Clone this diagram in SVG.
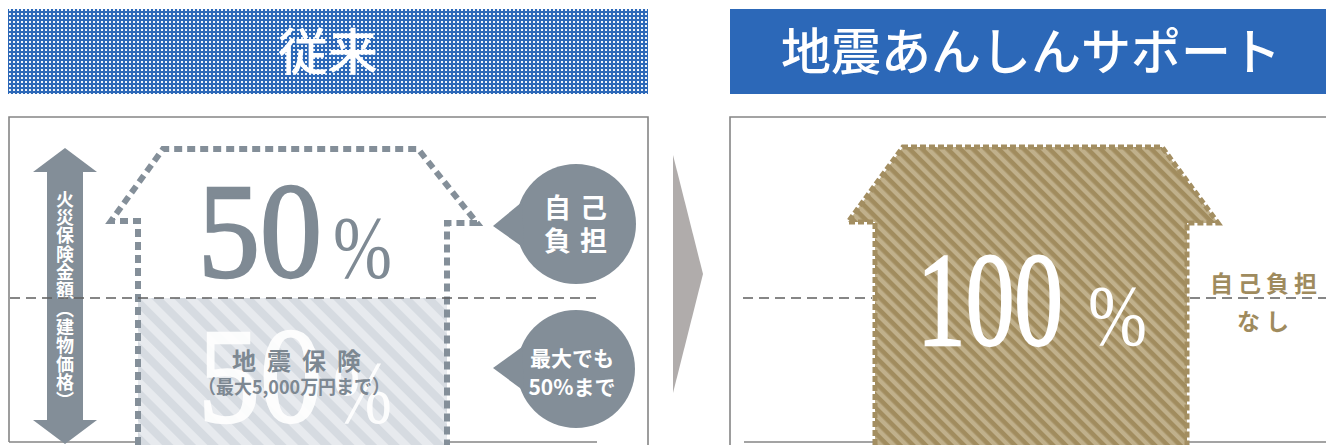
<svg xmlns="http://www.w3.org/2000/svg" width="1326" height="445" viewBox="0 0 1326 445">
  <style>
    .jp { font-family: "Noto Sans CJK JP", "Noto Sans", sans-serif; font-weight: bold; }
    .num { font-family: "Liberation Serif", "DejaVu Serif", serif; }
    .frame { fill: none; stroke: #858585; stroke-width: 1.6; }
    .guide { fill: none; stroke: #5f5f5f; stroke-width: 1.6; stroke-dasharray: 10 6; }
    .hdrtext { fill: #ffffff; font-size: 50px; text-anchor: middle; font-weight: 500; }
    .bubble { fill: #838e98; }
  </style>
  <defs>
    <!-- white dot screen on blue -->
    <pattern id="dots" width="4" height="4" patternUnits="userSpaceOnUse">
      <rect width="4" height="4" fill="#2c68b8"/>
      <rect x="1" y="1" width="2" height="2" fill="#ffffff" opacity="0.92"/>
    </pattern>
    <!-- pale diagonal stripes for the insured part -->
    <pattern id="paleStripes" width="16" height="16" patternUnits="userSpaceOnUse" patternTransform="rotate(45)">
      <rect width="16" height="16" fill="#e7eaee"/>
      <rect width="16" height="8" fill="#d6dbe1"/>
    </pattern>
    <!-- tan diagonal stripes for the fully covered house -->
    <pattern id="tanStripes" width="9" height="9" patternUnits="userSpaceOnUse" patternTransform="rotate(45)">
      <rect width="9" height="9" fill="#c0b08b"/>
      <rect width="9" height="4.6" fill="#a18c5e"/>
    </pattern>
  </defs>

  <!-- headers -->
  <g id="header-left">
    <rect x="8" y="9" width="640" height="85" fill="url(#dots)"/>
    <text class="jp hdrtext" x="328" y="70">従来</text>
  </g>
  <g id="header-right">
    <rect x="730" y="9" width="596" height="85" fill="#2c68b8"/>
    <text class="jp hdrtext" x="1031" y="70">地震あんしんサポート</text>
  </g>

  <!-- left panel: conventional coverage -->
  <g id="panel-left">
    <path class="frame" d="M9 442 V117 H648 V445 M9 442 H597"/>
  </g>

  <g id="insured-half">
    <rect x="138" y="298" width="309" height="147" fill="url(#paleStripes)"/>
    <text class="num" x="198" y="422" font-size="136" textLength="124" lengthAdjust="spacingAndGlyphs" fill="#ffffff" stroke="#ffffff" stroke-width="2.4" opacity="0.92">50</text>
    <text class="num" x="333" y="422" font-size="88" textLength="59" lengthAdjust="spacingAndGlyphs" fill="#ffffff" opacity="0.92">%</text>
    <text class="jp" x="232" y="370" font-size="24" letter-spacing="11" fill="#7d8892">地震保険</text>
    <text class="jp" x="198" y="394" font-size="19" textLength="192" lengthAdjust="spacingAndGlyphs" fill="#7d8892">（最大5,000万円まで）</text>
  </g>

  <g id="house-left">
    <path d="M138 445 V221 H111 L163 149 H418 L477 223 H447 V445" fill="none" stroke="#848f99" stroke-width="6" stroke-dasharray="8 5"/>
  </g>

  <g id="self-pay-half">
    <text class="num" x="198" y="277" font-size="136" textLength="124" lengthAdjust="spacingAndGlyphs" fill="#7f8a94" stroke="#7f8a94" stroke-width="2.4">50</text>
    <text class="num" x="333" y="277" font-size="88" textLength="59" lengthAdjust="spacingAndGlyphs" fill="#7f8a94">%</text>
  </g>

  <g id="value-arrow">
    <path d="M65 148 L97 172 H83 V420 H97 L65 444 L33 420 H47 V172 H33 Z" fill="#838e98"/>
    <text class="jp" x="65" y="190" font-size="18" letter-spacing="0.3" fill="#ffffff" style="writing-mode: vertical-rl;">火災保険金額（建物価格）</text>
  </g>

  <g id="bubble-self">
    <circle class="bubble" cx="576" cy="224" r="60"/>
    <path class="bubble" d="M522 202 L493 226 L524 248 Z"/>
    <text class="jp" x="580" y="218" font-size="27" letter-spacing="9" fill="#ffffff" text-anchor="middle">自己</text>
    <text class="jp" x="580" y="251" font-size="27" letter-spacing="9" fill="#ffffff" text-anchor="middle">負担</text>
  </g>

  <g id="bubble-max">
    <circle class="bubble" cx="576" cy="369" r="59"/>
    <path class="bubble" d="M522 347 L493 368 L524 391 Z"/>
    <text class="jp" x="572" y="366" font-size="21" fill="#ffffff" text-anchor="middle">最大でも</text>
    <text class="jp" x="572" y="395" font-size="21" fill="#ffffff" text-anchor="middle">50%まで</text>
  </g>

  <!-- transition arrow and right panel -->
  <g id="transition">
    <polygon points="673,155 703,274 673,393" fill="#b0acab"/>
  </g>

  <g id="panel-right">
    <path class="frame" d="M730 445 V117 H1326 M744 442 H1326"/>
  </g>

  <g id="house-right">
    <path d="M875 445 V222 H848 L903 147 H1162 L1218 223 H1187 V445 Z" fill="url(#tanStripes)"/>
    <path d="M875 445 V222 H848 L903 147 H1162 L1218 223 H1187 V445" fill="none" stroke="#a38e61" stroke-width="5" stroke-dasharray="6 3"/>
    <text class="num" x="917" y="345" font-size="133" textLength="146" lengthAdjust="spacingAndGlyphs" fill="#ffffff" stroke="#ffffff" stroke-width="2.4">100</text>
    <text class="num" x="1088" y="345" font-size="86" textLength="59" lengthAdjust="spacingAndGlyphs" fill="#ffffff">%</text>
  </g>

  <g id="connectors">
    <line class="guide" x1="10" y1="298" x2="597" y2="298"/>
    <line class="guide" x1="743" y1="298" x2="872" y2="298"/>
    <line class="guide" x1="1190" y1="298" x2="1326" y2="298"/>
  </g>

  <g id="no-self-pay">
    <text class="jp" x="1266" y="292" font-size="23" letter-spacing="5" fill="#9f8b5e" text-anchor="middle">自己負担</text>
    <text class="jp" x="1266" y="330" font-size="23" letter-spacing="6" fill="#9f8b5e" text-anchor="middle">なし</text>
  </g>
</svg>
